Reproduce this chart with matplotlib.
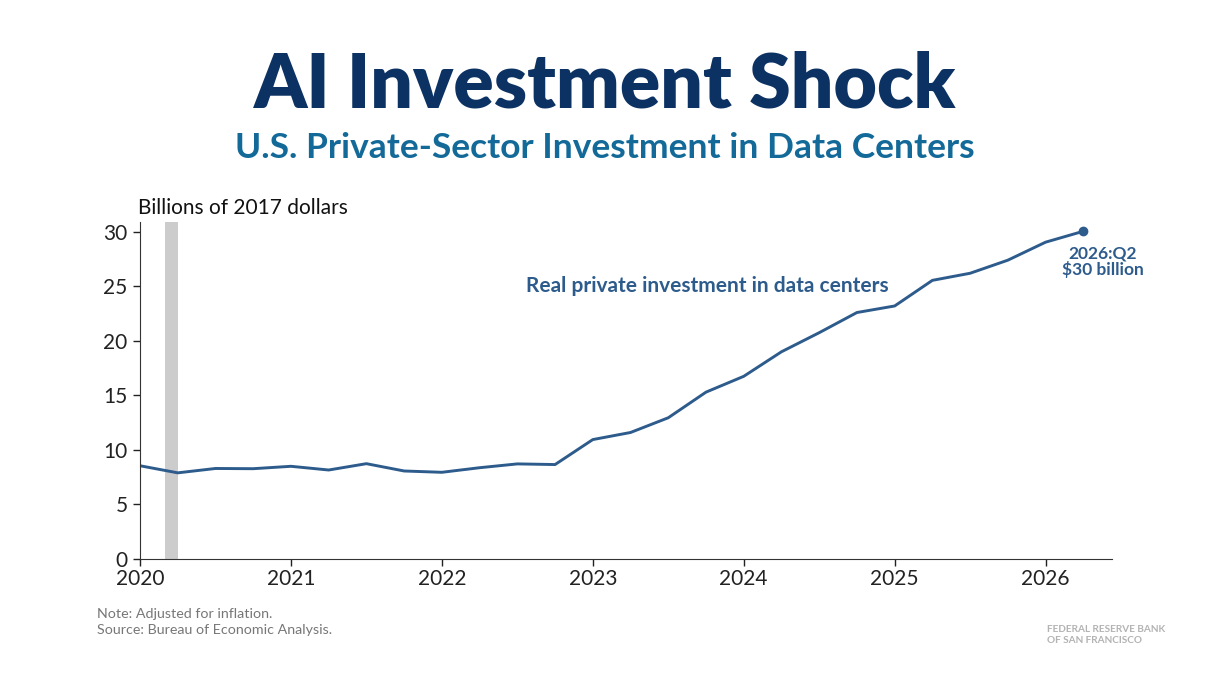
import matplotlib
matplotlib.use("Agg")
import matplotlib.pyplot as plt

plt.rcParams['font.family'] = ['Lato', 'DejaVu Sans']

# quarterly, 2020:Q1 .. 2026:Q2, billions of 2017 dollars
quarters = [2020 + i * 0.25 for i in range(26)]
investment = [8.55, 7.9, 8.3, 8.28, 8.5, 8.16, 8.74, 8.07,
              7.95, 8.37, 8.72, 8.66, 10.95, 11.6, 12.95, 15.3,
              16.75, 19.0, 20.75, 22.6, 23.2, 25.55, 26.2, 27.4,
              29.05, 30.05]
recession = (2020.167, 2020.25)
year_ticks = [2020, 2021, 2022, 2023, 2024, 2025, 2026]
y_ticks = [0, 5, 10, 15, 20, 25, 30]

navy = '#0c3264'
teal = '#136a99'
line_col = '#2d5b8c'

fig = plt.figure(figsize=(12.1, 6.8), dpi=100)
ax = fig.add_axes([140 / 1210, 1 - 559 / 680, (1112 - 140) / 1210, (559 - 222) / 680])

ax.axvspan(*recession, color='#cccccc', lw=0)
ax.plot(quarters, investment, color=line_col, lw=2.1)
ax.plot(quarters[-1], investment[-1], 'o', color=line_col, ms=6)

ax.set_xlim(2020, 2026.44)
ax.set_ylim(0, 30.9)
ax.set_xticks(year_ticks)
ax.set_xticklabels([str(y) for y in year_ticks])
ax.set_yticks(y_ticks)
ax.tick_params(labelsize=15, colors='#222222', length=5, width=1)
ax.tick_params(axis='x', pad=2)
ax.tick_params(axis='y', pad=4)
for s in ['top', 'right']:
    ax.spines[s].set_visible(False)
for s in ['left', 'bottom']:
    ax.spines[s].set_color('#333333')

ax.text(2022.556, 25, 'Real private investment in data centers', color=line_col,
        fontsize=15, fontweight='bold', ha='left', va='center')
ax.annotate('2026:Q2\n$30 billion', (quarters[-1], investment[-1]), xytext=(14, -10),
            textcoords='offset points', ha='center', va='top', color=line_col,
            fontsize=12.5, fontweight='bold', linespacing=1.0)

fig.text(0.5, 1 - 108 / 680, 'AI Investment Shock', ha='center', va='baseline',
         color=navy, fontsize=54, fontweight='heavy')
fig.text(0.5, 1 - 158 / 680, 'U.S. Private-Sector Investment in Data Centers', ha='center',
         va='baseline', color=teal, fontsize=25.5, fontweight='bold')
fig.text(138 / 1210, 1 - 214 / 680, 'Billions of 2017 dollars', ha='left', va='baseline',
         color='#111111', fontsize=15)

fig.text(97 / 1210, 1 - 634 / 680, 'Note: Adjusted for inflation.\nSource: Bureau of Economic Analysis.',
         ha='left', va='baseline', color='#777777', fontsize=10.3, linespacing=1.4)
fig.text(1047 / 1210, 1 - 643 / 680, 'FEDERAL RESERVE BANK\nOF SAN FRANCISCO', ha='left',
         va='baseline', color='#b3b3b3', fontsize=7.2, fontweight='bold', linespacing=1.25)

fig.savefig('out.png', dpi=100)
